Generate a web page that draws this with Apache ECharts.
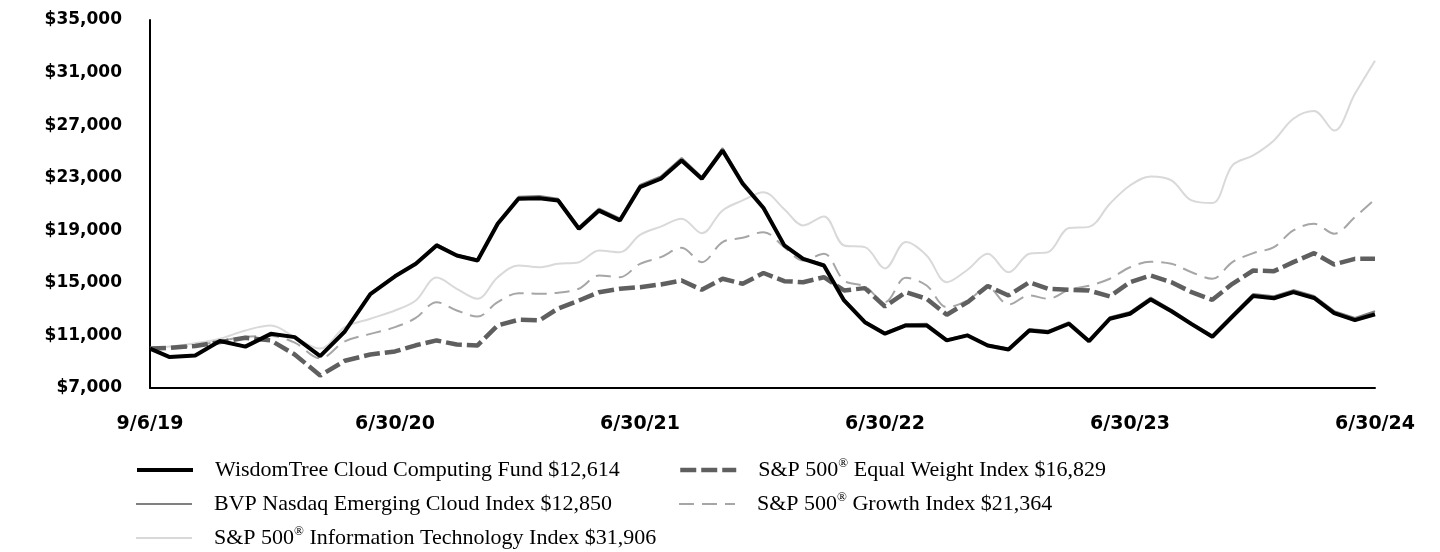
<!DOCTYPE html>
<html>
<head>
<meta charset="utf-8">
<script src="https://cdn.jsdelivr.net/npm/echarts@6/dist/echarts.min.js"></script>
<style>
html,body{margin:0;padding:0;background:#fff;}
#chart{width:1440px;height:552px;}
</style>
</head>
<body>
<div id="chart"></div>
<script>
// ---- data ----
const dates = [
  '2019-09-06','2019-09-30','2019-10-31','2019-11-30','2019-12-31',
  '2020-01-31','2020-02-29','2020-03-31','2020-04-30','2020-05-31','2020-06-30',
  '2020-07-31','2020-08-31','2020-09-30','2020-10-31','2020-11-30','2020-12-31',
  '2021-01-31','2021-02-28','2021-03-31','2021-04-30','2021-05-31','2021-06-30',
  '2021-07-31','2021-08-31','2021-09-30','2021-10-31','2021-11-30','2021-12-31',
  '2022-01-31','2022-02-28','2022-03-31','2022-04-30','2022-05-31','2022-06-30',
  '2022-07-31','2022-08-31','2022-09-30','2022-10-31','2022-11-30','2022-12-31',
  '2023-01-31','2023-02-28','2023-03-31','2023-04-30','2023-05-31','2023-06-30',
  '2023-07-31','2023-08-31','2023-09-30','2023-10-31','2023-11-30','2023-12-31',
  '2024-01-31','2024-02-29','2024-03-31','2024-04-30','2024-05-31','2024-06-30'
];
const tickDates = ['2019-09-06','2020-06-30','2021-06-30','2022-06-30','2023-06-30','2024-06-30'];
const tickLabels = ['9/6/19','6/30/20','6/30/21','6/30/22','6/30/23','6/30/24'];
const yTicks = [7000, 11000, 15000, 19000, 23000, 27000, 31000, 35000];

const seriesNames = [
  'WisdomTree Cloud Computing Fund $12,614',
  'BVP Nasdaq Emerging Cloud Index $12,850',
  'S&P 500® Information Technology Index $31,906',
  'S&P 500® Equal Weight Index $16,829',
  'S&P 500® Growth Index $21,364'
];

const wisdomTree = [10000,9350,9480,10580,10150,11120,10870,9430,11300,14150,15500,
  16450,17850,17080,16700,19500,21400,21440,21270,19120,20500,19750,22280,
  22920,24310,22920,25070,22540,20700,17850,16830,16320,13660,12010,11130,
  11760,11760,10620,11000,10240,9930,11380,11250,11890,10560,12270,12650,
  13740,12840,11860,10900,12440,14000,13830,14290,13850,12700,12160,12614];

const bvpCloud = [10000,9380,9520,10600,10200,11150,10900,9470,11350,14200,15550,
  16500,17950,17150,16780,19600,21550,21600,21400,19250,20650,19900,22450,
  23100,24500,23050,25250,22700,20800,17900,16900,16400,13750,12080,11200,
  11850,11880,10700,11080,10300,10000,11480,11350,12000,10650,12380,12780,
  13880,12950,11950,11000,12550,14150,13980,14450,14000,12850,12330,12850];

const spIT = [10000,10150,10400,10750,11380,11750,10870,10000,11630,12270,12900,
  13660,15400,14550,13790,15430,16320,16190,16450,16575,17460,17330,18650,
  19280,19875,18780,20510,21270,21900,20600,19370,20050,17845,17720,16100,
  18100,17080,15050,16000,17210,15800,17210,17335,19170,19260,21020,22410,
  23100,22800,21270,21070,23940,24700,25840,27490,28070,26590,29380,31906];

const spEqual = [10000,10060,10200,10490,10820,10620,9550,7950,9070,9550,9780,
  10250,10620,10310,10240,11760,12190,12140,13050,13660,14290,14550,14670,
  14880,15180,14470,15310,14930,15750,15130,15050,15430,14420,14600,13200,
  14290,13790,12570,13530,14760,14040,15050,14550,14470,14420,13965,15050,
  15560,15050,14290,13710,14930,15940,15890,16575,17260,16400,16830,16829];

const spGrowth = [10000,10080,10220,10560,10900,10950,10450,9250,10550,11120,11630,
  12330,13530,12900,12440,13530,14215,14170,14250,14550,15560,15430,16450,
  16955,17670,16575,18100,18430,18860,17720,16700,17210,15180,14725,13530,
  15380,14800,13150,13660,14650,13350,14040,13790,14480,14780,15310,16190,
  16600,16450,15810,15310,16575,17260,17720,18990,19500,18740,20000,21364];

// position along the axis: each labelled period gets equal width, time-proportional inside
const tickTimes = tickDates.map(d => Date.parse(d));
function axisPos(d) {
  const t = Date.parse(d);
  for (let k = 0; k < tickTimes.length - 1; k++) {
    if (t <= tickTimes[k + 1]) return k + (t - tickTimes[k]) / (tickTimes[k + 1] - tickTimes[k]);
  }
  return tickTimes.length - 1;
}
const toPairs = vals => vals.map((v, i) => [axisPos(dates[i]), v]);

const chart = echarts.init(document.getElementById('chart'), null, {renderer: 'canvas'});

const legendText = {
  fontFamily: '"Liberation Serif", "Times New Roman", serif',
  fontSize: 22,
  color: '#000',
  lineHeight: 26,
  padding: [0, 0, 0, 17],
  rich: {
    sup: {fontFamily: '"Liberation Serif", serif', fontSize: 13, verticalAlign: 'top', lineHeight: 13, padding: [0, 0, 9, 0], color: '#000'}
  }
};
const legendFmt = name => name.replace('®', '{sup|®}');

// legend entries: [series index, left, row]
const legendSlots = [[0, 135, 0], [1, 135, 1], [2, 135, 2], [3, 678, 0], [4, 678, 1]];
const legendWidths = [4, 2, 2, 4.5, 2];
const rowTop = [457, 491, 525];

chart.setOption({
  animation: false,
  backgroundColor: '#fff',
  grid: {left: 150, right: 65, top: 20, bottom: 164, containLabel: false},
  xAxis: {
    type: 'value',
    min: 0, max: tickDates.length - 1, interval: 1,
    axisLine: {show: true, lineStyle: {color: '#000', width: 2}},
    axisTick: {show: false},
    splitLine: {show: false},
    axisLabel: {
      formatter: v => tickLabels[Math.round(v)] || '',
      fontFamily: '"DejaVu Sans", sans-serif', fontWeight: 'bold', fontSize: 19, color: '#000',
      margin: 27
    }
  },
  yAxis: {
    type: 'value',
    min: yTicks[0], max: yTicks[yTicks.length - 1],
    axisLine: {show: true, lineStyle: {color: '#000', width: 2}},
    axisTick: {show: false},
    splitLine: {show: false},
    axisLabel: {
      customValues: yTicks,
      formatter: v => '$' + v.toLocaleString('en-US'),
      fontFamily: '"DejaVu Sans", sans-serif', fontWeight: 'bold', fontSize: 17, color: '#000',
      margin: 28, padding: [4, 0, 0, 0]
    }
  },
  legend: legendSlots.map(([si, left, row]) => ({
    orient: 'horizontal', left: left, top: rowTop[row], padding: 0,
    itemWidth: 56, itemHeight: 14,
    data: [seriesNames[si]],
    textStyle: legendText, formatter: legendFmt, selectedMode: false,
    itemStyle: {opacity: 0},
    lineStyle: {width: legendWidths[si]}
  })),
  series: [
    {name: seriesNames[2], type: 'line', data: toPairs(spIT), symbol: 'none', smooth: 0.35, z: 1,
     lineStyle: {color: '#d9d9d9', width: 2}, itemStyle: {color: '#d9d9d9'}},
    {name: seriesNames[4], type: 'line', data: toPairs(spGrowth), symbol: 'none', smooth: 0.35, z: 2,
     lineStyle: {color: '#a6a6a6', width: 2, type: [15, 8]}, itemStyle: {color: '#a6a6a6'}},
    {name: seriesNames[3], type: 'line', data: toPairs(spEqual), symbol: 'none', z: 3,
     lineStyle: {color: '#5f5f5f', width: 4.5, type: [16, 5]}, itemStyle: {color: '#5f5f5f'}},
    {name: seriesNames[1], type: 'line', data: toPairs(bvpCloud), symbol: 'none', z: 4,
     lineStyle: {color: '#808080', width: 2}, itemStyle: {color: '#808080'}},
    {name: seriesNames[0], type: 'line', data: toPairs(wisdomTree), symbol: 'none', z: 5,
     lineStyle: {color: '#000', width: 4}, itemStyle: {color: '#000'}}
  ]
});
</script>
</body>
</html>
